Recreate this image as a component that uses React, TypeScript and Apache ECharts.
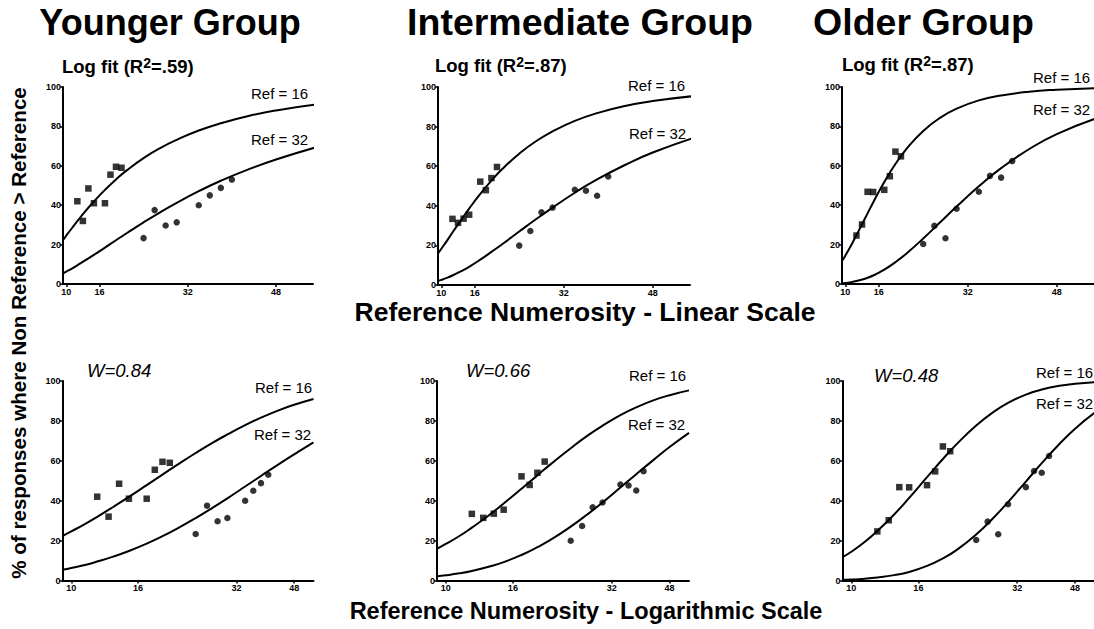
import React, { useEffect, useRef } from "react";
import * as echarts from "echarts";

// ---- data ----
const groupNames = ["Younger Group", "Intermediate Group", "Older Group"];
const fitR2Labels = [".59", ".87", ".87"];
const weberLabels = ["W=0.84", "W=0.66", "W=0.48"];
const refLabels = ["Ref = 16", "Ref = 32"];
const xTickValues = [10, 16, 32, 48];

// non-reference numerosities shown against each reference
const ref16Numerosities = [12, 13, 14, 15, 17, 18, 19, 20];
const ref32Numerosities = [24, 26, 28, 30, 34, 36, 38, 40];

// observed % "non reference > reference"
const youngerRef16 = [42, 32, 48.5, 41, 41, 55.5, 59.5, 59];
const youngerRef32 = [23.3, 37.5, 29.7, 31.3, 40, 45, 48.8, 53];
const intermediateRef16 = [33.4, 31.4, 33.5, 35.5, 52.2, 47.9, 54, 59.6];
const intermediateRef32 = [19.9, 27.3, 36.7, 39.1, 48.1, 47.6, 45.1, 54.8];
const olderRef16 = [24.6, 30.2, 46.8, 46.7, 47.8, 54.7, 67.2, 64.8];
const olderRef32 = [20.3, 29.5, 23.2, 38.2, 46.8, 54.9, 54, 62.4];

// fitted psychometric curves, sampled along the numerosity axis
const fitX = [9.4, 10, 11, 12, 13.5, 15, 17, 19, 21, 24, 27, 30, 34, 38, 43, 48, 55];
const youngerFit16 = [22.3, 24.6, 28.3, 31.9, 37.1, 41.9, 47.8, 53.1, 57.8, 63.9, 69.0, 73.2, 77.9, 81.6, 85.3, 88.1, 91.0];
const youngerFit32 = [5.4, 6.3, 7.8, 9.5, 12.1, 14.8, 18.5, 22.2, 25.9, 31.3, 36.4, 41.2, 47.1, 52.4, 58.2, 63.2, 69.2];
const intermediateFit16 = [15.9, 18.3, 22.3, 26.5, 32.6, 38.6, 46.0, 52.7, 58.7, 66.3, 72.6, 77.6, 82.9, 86.8, 90.4, 92.9, 95.3];
const intermediateFit32 = [2.1, 2.6, 3.6, 4.8, 6.9, 9.2, 12.8, 16.7, 20.7, 27.0, 33.2, 39.1, 46.6, 53.3, 60.6, 66.9, 74.0];
const olderFit16 = [11.7, 14.4, 19.4, 24.8, 33.1, 41.4, 51.8, 60.9, 68.6, 77.7, 84.3, 89.0, 93.2, 95.7, 97.6, 98.6, 99.4];
const olderFit32 = [0.4, 0.5, 0.9, 1.5, 2.7, 4.3, 7.3, 11.1, 15.5, 23.1, 31.2, 39.3, 49.6, 58.8, 68.4, 76.1, 84.0];

const observed16 = [youngerRef16, intermediateRef16, olderRef16];
const observed32 = [youngerRef32, intermediateRef32, olderRef32];
const fits16 = [youngerFit16, intermediateFit16, olderFit16];
const fits32 = [youngerFit32, intermediateFit32, olderFit32];

// ---- layout ----
const FONT = "'Liberation Sans', Arial, Helvetica, sans-serif";
const panels = [
  { left: 63, top: 87, width: 250, height: 197, log: false },
  { left: 438, top: 87, width: 252, height: 198, log: false },
  { left: 842, top: 87, width: 252, height: 197, log: false },
  { left: 62.5, top: 381, width: 251, height: 199.5, log: true },
  { left: 437, top: 381, width: 252, height: 199.5, log: true },
  { left: 842.5, top: 381, width: 252, height: 199.5, log: true },
];
const titleCenters = [170, 580, 923.5];
const titleSizes = [36, 37.5, 37.5];
const fitLabelPos = [
  [62, 66],
  [435, 65.5],
  [842, 64],
];
const refLabelPos = [
  [[251, 93], [251, 139.6]],
  [[628, 85.3], [629, 133]],
  [[1033, 77], [1033, 109]],
  [[255, 387], [254, 434.6]],
  [[629, 375.3], [628, 424.6]],
  [[1036, 372], [1036, 403.6]],
];
const weberPos = [
  [87, 370.5],
  [466, 370.5],
  [874, 375.5],
];

function buildOption() {
  const grid: any[] = [];
  const xAxis: any[] = [];
  const yAxis: any[] = [];
  const series: any[] = [];

  panels.forEach((p, i) => {
    const g = i % 3;
    grid.push({
      left: p.left,
      top: p.top,
      width: p.width,
      height: p.height,
      containLabel: false,
      outerBoundsMode: "none",
    });
    xAxis.push({
      gridIndex: i,
      type: p.log ? "log" : "value",
      logBase: 10,
      min: 9.4,
      max: p.log ? 55 : 54.7,
      axisLine: { show: true, onZero: false, lineStyle: { color: "#000", width: 2 } },
      axisTick: { show: true, length: 3, lineStyle: { color: "#000", width: 1.5 }, customValues: xTickValues },
      axisLabel: {
        customValues: xTickValues,
        color: "#000",
        fontSize: 9,
        fontWeight: "bold",
        fontFamily: FONT,
        margin: 3,
      },
      splitLine: { show: false },
      minorTick: { show: false },
    });
    yAxis.push({
      gridIndex: i,
      type: "value",
      min: 0,
      max: 100,
      interval: 20,
      axisLine: { show: true, onZero: false, lineStyle: { color: "#000", width: 2 } },
      axisTick: { show: true, length: 3, lineStyle: { color: "#000", width: 1.5 } },
      axisLabel: { color: "#000", fontSize: 9, fontWeight: "bold", fontFamily: FONT, margin: 2 },
      splitLine: { show: false },
    });

    const lineBase = {
      type: "line",
      xAxisIndex: i,
      yAxisIndex: i,
      showSymbol: false,
      smooth: 0.5,
      lineStyle: { color: "#000", width: 2 },
      itemStyle: { color: "#000" },
      z: 2,
    };
    series.push({ ...lineBase, name: refLabels[0], data: fitX.map((x, k) => [x, fits16[g][k]]) });
    series.push({ ...lineBase, name: refLabels[1], data: fitX.map((x, k) => [x, fits32[g][k]]) });
    series.push({
      type: "scatter",
      xAxisIndex: i,
      yAxisIndex: i,
      symbol: "rect",
      symbolSize: 6.5,
      itemStyle: { color: "#000" },
      z: 3,
      data: ref16Numerosities.map((x, k) => [x, observed16[g][k]]),
    });
    series.push({
      type: "scatter",
      xAxisIndex: i,
      yAxisIndex: i,
      symbol: "circle",
      symbolSize: 6.5,
      itemStyle: { color: "#000" },
      z: 3,
      data: ref32Numerosities.map((x, k) => [x, observed32[g][k]]),
    });
  });

  const graphic: any[] = [];
  groupNames.forEach((name, g) => {
    graphic.push({
      type: "text",
      x: titleCenters[g],
      y: 22,
      style: {
        text: name,
        font: `bold ${titleSizes[g]}px ${FONT}`,
        fill: "#000",
        align: "center",
        verticalAlign: "middle",
      },
    });
    graphic.push({
      type: "text",
      x: fitLabelPos[g][0],
      y: fitLabelPos[g][1],
      style: {
        text: `{b|Log fit (R}{s|2}{b|=${fitR2Labels[g]})}`,
        fill: "#000",
        align: "left",
        verticalAlign: "middle",
        rich: {
          b: { fontSize: 18.5, fontWeight: "bold", fontFamily: FONT, fill: "#000", lineHeight: 21 },
          s: { fontSize: 14, fontWeight: "bold", fontFamily: FONT, fill: "#000", lineHeight: 13, verticalAlign: "top" },
        },
      },
    });
    graphic.push({
      type: "text",
      x: weberPos[g][0],
      y: weberPos[g][1],
      style: {
        text: weberLabels[g],
        font: `italic 18.5px ${FONT}`,
        fill: "#000",
        align: "left",
        verticalAlign: "middle",
      },
    });
  });
  refLabelPos.forEach((pair) => {
    pair.forEach((pos, r) => {
      graphic.push({
        type: "text",
        x: pos[0],
        y: pos[1],
        style: {
          text: refLabels[r],
          font: `15px ${FONT}`,
          fill: "#000",
          align: "left",
          verticalAlign: "middle",
        },
      });
    });
  });
  graphic.push({
    type: "text",
    x: 585,
    y: 312,
    style: {
      text: "Reference Numerosity - Linear Scale",
      font: `bold 26.5px ${FONT}`,
      fill: "#000",
      align: "center",
      verticalAlign: "middle",
    },
  });
  graphic.push({
    type: "text",
    x: 586,
    y: 611,
    style: {
      text: "Reference Numerosity - Logarithmic Scale",
      font: `bold 23.5px ${FONT}`,
      fill: "#000",
      align: "center",
      verticalAlign: "middle",
    },
  });
  graphic.push({
    type: "text",
    x: 18,
    y: 333,
    rotation: Math.PI / 2,
    style: {
      text: "% of responses where Non Reference > Reference",
      font: `bold 20.6px ${FONT}`,
      fill: "#000",
      align: "center",
      verticalAlign: "middle",
    },
  });

  return {
    animation: false,
    backgroundColor: "#fff",
    grid,
    xAxis,
    yAxis,
    series,
    graphic,
  };
}

export default function App() {
  const ref = useRef<HTMLDivElement>(null);
  useEffect(() => {
    if (!ref.current) return;
    const chart = echarts.init(ref.current, undefined, { renderer: "svg" });
    chart.setOption(buildOption() as any);
    return () => chart.dispose();
  }, []);
  return (
    <div
      ref={ref}
      style={{ position: "absolute", left: 0, top: 0, width: 1094, height: 629, background: "#fff" }}
    />
  );
}
